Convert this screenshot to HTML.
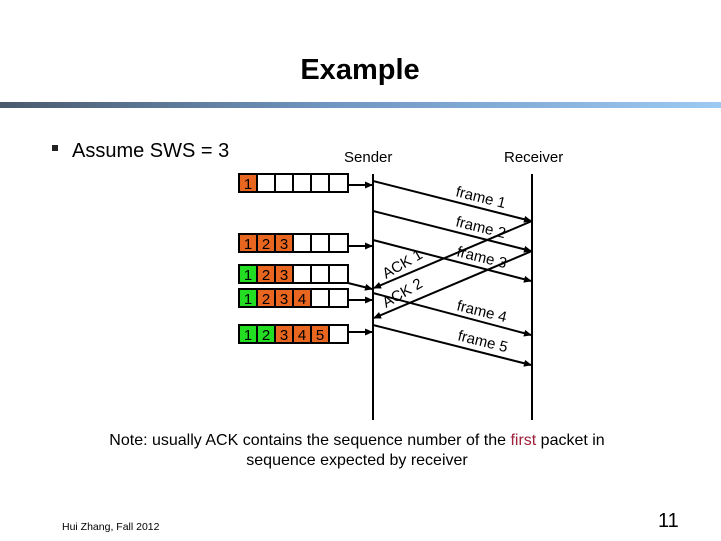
<!DOCTYPE html>
<html><head><meta charset="utf-8"><style>
html,body{margin:0;padding:0;background:#fff;width:721px;height:541px;overflow:hidden}
svg{display:block}
text{font-family:"Liberation Sans",Arial,sans-serif}
</style></head><body>
<svg width="721" height="541" viewBox="0 0 721 541" xmlns="http://www.w3.org/2000/svg">
<defs>
<linearGradient id="g" x1="0" x2="1" y1="0" y2="0">
<stop offset="0" stop-color="#4a5a6c"/><stop offset="0.45" stop-color="#6f95c0"/><stop offset="1" stop-color="#9ccaf2"/>
</linearGradient>
<marker id="a" markerWidth="8" markerHeight="8" refX="7" refY="4" orient="auto" markerUnits="userSpaceOnUse">
<path d="M0,0.5 L8,4 L0,7.5 z" fill="#000"/></marker>
</defs>
<text x="360" y="79" font-size="29" font-weight="bold" text-anchor="middle">Example</text>
<rect x="0" y="102" width="721" height="6" fill="url(#g)"/>
<rect x="52" y="145" width="6" height="6" fill="#222"/>
<text x="72" y="157" font-size="20">Assume SWS = 3</text>
<text x="344" y="162" font-size="15">Sender</text>
<text x="504" y="162" font-size="15">Receiver</text>

<g stroke="#000" stroke-width="2" fill="none">
<line x1="373" y1="174" x2="373" y2="420"/>
<line x1="532" y1="174" x2="532" y2="420"/>
</g>

<g stroke="#000" stroke-width="2" font-size="15">
<rect x="239" y="174" width="18" height="18" fill="#e8661f"/>
<rect x="257" y="174" width="18" height="18" fill="#fff"/>
<rect x="275" y="174" width="18" height="18" fill="#fff"/>
<rect x="293" y="174" width="18" height="18" fill="#fff"/>
<rect x="311" y="174" width="18" height="18" fill="#fff"/>
<rect x="329" y="174" width="19" height="18" fill="#fff"/>
<rect x="239" y="234" width="18" height="18" fill="#e8661f"/>
<rect x="257" y="234" width="18" height="18" fill="#e8661f"/>
<rect x="275" y="234" width="18" height="18" fill="#e8661f"/>
<rect x="293" y="234" width="18" height="18" fill="#fff"/>
<rect x="311" y="234" width="18" height="18" fill="#fff"/>
<rect x="329" y="234" width="19" height="18" fill="#fff"/>
<rect x="239" y="265" width="18" height="18" fill="#22dd22"/>
<rect x="257" y="265" width="18" height="18" fill="#e8661f"/>
<rect x="275" y="265" width="18" height="18" fill="#e8661f"/>
<rect x="293" y="265" width="18" height="18" fill="#fff"/>
<rect x="311" y="265" width="18" height="18" fill="#fff"/>
<rect x="329" y="265" width="19" height="18" fill="#fff"/>
<rect x="239" y="289" width="18" height="18" fill="#22dd22"/>
<rect x="257" y="289" width="18" height="18" fill="#e8661f"/>
<rect x="275" y="289" width="18" height="18" fill="#e8661f"/>
<rect x="293" y="289" width="18" height="18" fill="#e8661f"/>
<rect x="311" y="289" width="18" height="18" fill="#fff"/>
<rect x="329" y="289" width="19" height="18" fill="#fff"/>
<rect x="239" y="325" width="18" height="18" fill="#22dd22"/>
<rect x="257" y="325" width="18" height="18" fill="#22dd22"/>
<rect x="275" y="325" width="18" height="18" fill="#e8661f"/>
<rect x="293" y="325" width="18" height="18" fill="#e8661f"/>
<rect x="311" y="325" width="18" height="18" fill="#e8661f"/>
<rect x="329" y="325" width="19" height="18" fill="#fff"/>
</g>
<g font-size="15" fill="#000" text-anchor="middle">
<text x="248" y="189">1</text>
<text x="248" y="249">1</text><text x="266" y="249">2</text><text x="284" y="249">3</text>
<text x="248" y="280">1</text><text x="266" y="280">2</text><text x="284" y="280">3</text>
<text x="248" y="304">1</text><text x="266" y="304">2</text><text x="284" y="304">3</text><text x="302" y="304">4</text>
<text x="248" y="340">1</text><text x="266" y="340">2</text><text x="284" y="340">3</text><text x="302" y="340">4</text><text x="320" y="340">5</text>
</g>

<g stroke="#000" stroke-width="2" marker-end="url(#a)">
<line x1="348" y1="185" x2="372" y2="185"/>
<line x1="348" y1="246" x2="372" y2="246"/>
<line x1="348" y1="283" x2="372" y2="289"/>
<line x1="348" y1="300" x2="372" y2="300"/>
<line x1="348" y1="332" x2="372" y2="332"/>
<line x1="373" y1="181" x2="531" y2="221"/>
<line x1="373" y1="211" x2="531" y2="251"/>
<line x1="373" y1="240" x2="531" y2="281"/>
<line x1="373" y1="293" x2="531" y2="335"/>
<line x1="373" y1="325" x2="531" y2="365"/>
<line x1="532" y1="221" x2="374" y2="288"/>
<line x1="532" y1="251" x2="374" y2="318"/>
</g>

<g font-size="15" fill="#000">
<text transform="translate(455,196) rotate(14)">frame 1</text>
<text transform="translate(455,226) rotate(14)">frame 2</text>
<text transform="translate(456,256) rotate(14)">frame 3</text>
<text transform="translate(456,310) rotate(14)">frame 4</text>
<text transform="translate(457,340) rotate(14)">frame 5</text>
<text transform="translate(386,279) rotate(-30)">ACK 1</text>
<text transform="translate(386,308) rotate(-30)">ACK 2</text>
</g>

<text x="357" y="445" font-size="16" text-anchor="middle">Note: usually ACK contains the sequence number of the <tspan fill="#a0203a">first</tspan> packet in</text>
<text x="357" y="465" font-size="16" text-anchor="middle">sequence expected by receiver</text>
<text x="62" y="530" font-size="10.5">Hui Zhang, Fall 2012</text>
<text x="658" y="527" font-size="20">11</text>
</svg>
</body></html>
